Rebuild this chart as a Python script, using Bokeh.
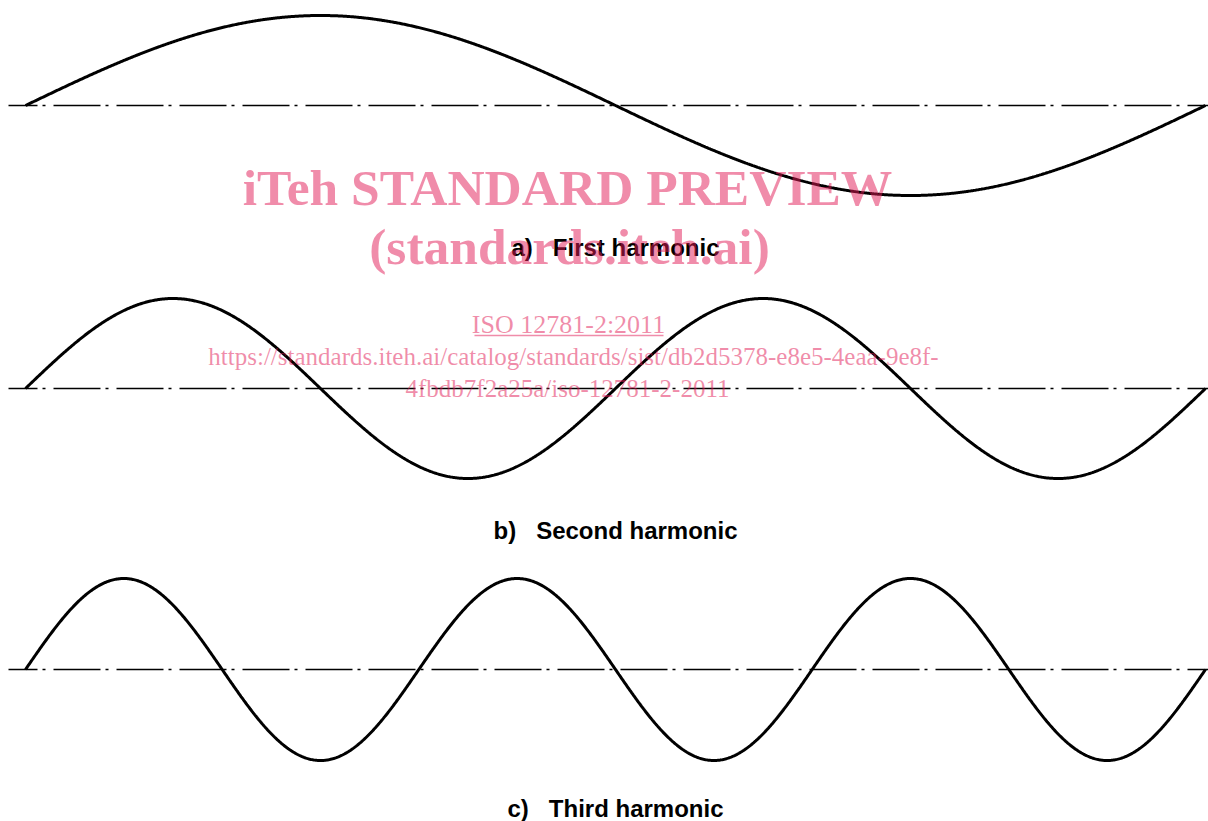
import numpy as np
from bokeh.plotting import figure
from bokeh.models import Range1d
from bokeh.core.properties import value
from bokeh.embed import file_html
from bokeh.resources import INLINE

# ---- data ----
harmonics = [1, 2, 3]
labels = ["a)\u00a0\u00a0\u00a0First harmonic",
          "b)\u00a0\u00a0\u00a0Second harmonic",
          "c)\u00a0\u00a0\u00a0Third harmonic"]
baselines = [105, 388, 669]          # axis line of each panel
amplitudes = [90, 90, 91]
label_y = [247, 530, 808]
watermark_big = ["iTeh STANDARD PREVIEW", "(standards.iteh.ai)"]
watermark_small = ["ISO 12781-2:2011",
                   "https://standards.iteh.ai/catalog/standards/sist/db2d5378-e8e5-4eaa-9e8f-",
                   "4fbdb7f2a25a/iso-12781-2-2011"]

x0, period_px = 25, 1180

p = figure(width=1208, height=821, output_backend="svg", toolbar_location=None,
           x_range=Range1d(0, 1208), y_range=Range1d(821, 0))
p.axis.visible = False
p.grid.visible = False
p.outline_line_color = None
p.min_border = 0
p.background_fill_color = "white"
p.border_fill_color = "white"

t = np.linspace(0, 1, 1200)
for k, base, amp in zip(harmonics, baselines, amplitudes):
    # centre (dash-dot) line
    p.line([8, 1208], [base, base], line_color="black", line_width=1.6,
           line_dash="47 5 3 8", line_dash_offset=18)
    # harmonic curve
    p.line(x0 + period_px * t, base - amp * np.sin(2 * np.pi * k * t),
           line_color="black", line_width=3)

p.text(x=[615] * 3, y=label_y, text=labels, text_align="center",
       text_baseline="middle", text_font=value("Liberation Sans"),
       text_font_style="bold", text_font_size="24px", text_color="black")

# watermark
wm_color = "#E11955"
p.text(x=[567, 569], y=[187, 246], text=watermark_big, text_align="center",
       text_baseline="middle", text_font=value("Liberation Serif"),
       text_font_style="bold", text_font_size="51.5px", text_color=wm_color,
       text_alpha=0.5)
p.text(x=[568, 573, 567], y=[324, 356, 388], text=watermark_small,
       text_align="center", text_baseline="middle",
       text_font=value("Liberation Serif"), text_font_size=["26px", "25px", "25px"],
       text_color=wm_color, text_alpha=0.5)
p.line([474, 663], [335, 335], line_color=wm_color, line_alpha=0.5, line_width=1.4)

open("out.html", "w").write(file_html(p, INLINE))
